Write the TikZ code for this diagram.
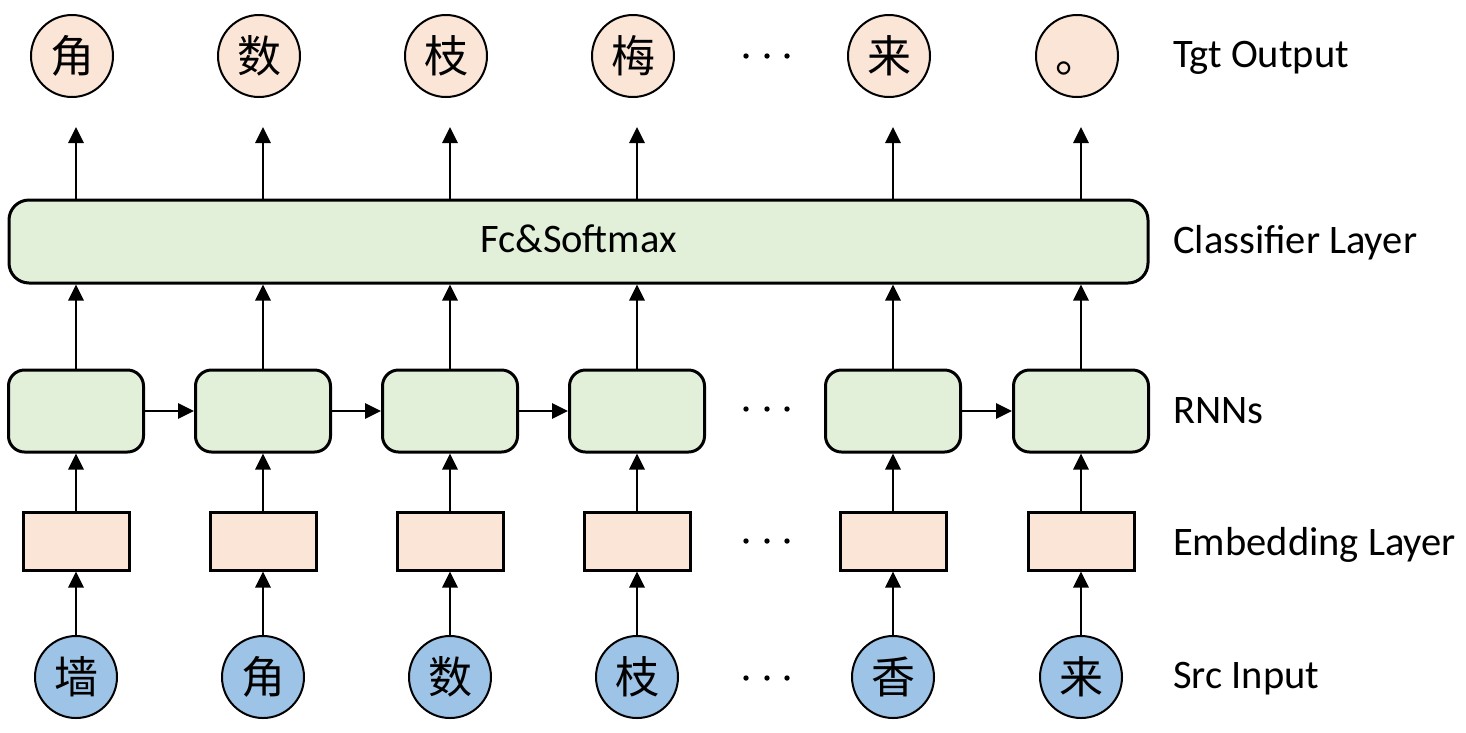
\documentclass[tikz,border=0pt]{standalone}
\usepackage{fontspec}
\setmainfont{Carlito}
\newfontfamily\cjk{Noto Sans CJK SC}
\usetikzlibrary{arrows.meta}
\definecolor{tgtfill}{HTML}{FBE5D6}
\definecolor{rnnfill}{HTML}{E2F0D9}
\definecolor{srcfill}{HTML}{9DC3E6}

\begin{document}
\begin{tikzpicture}[x=1pt,y=-1pt,
  token/.style={circle, draw=black, line width=2pt, minimum size=82pt, inner sep=0pt,
    font=\cjk\fontsize{44}{44}\selectfont, text height=38.7pt, text depth=5.3pt},
  tgt/.style={token, fill=tgtfill},
  src/.style={token, fill=srcfill},
  rnncell/.style={draw=black, rounded corners=16pt, line width=3pt, fill=rnnfill,
    minimum width=135pt, minimum height=82pt, inner sep=0pt},
  embbox/.style={draw=black, line width=3pt, fill=tgtfill,
    minimum width=106pt, minimum height=58pt, inner sep=0pt},
  clsbox/.style={draw=black, rounded corners=20pt, line width=3pt, fill=rnnfill,
    minimum width=1139pt, minimum height=83pt, inner sep=0pt,
    font=\fontsize{40.5}{48}\selectfont, text height=27pt, text depth=6pt},
  layerlabel/.style={anchor=base west, inner sep=0pt, font=\fontsize{40.5}{48}\selectfont},
  flow/.style={-{Triangle[length=16pt,width=15pt]}, line width=2.8pt},
]
\useasboundingbox (0,0) rectangle (1466,732);

% classifier spanning all time steps
\node[clsbox] (cls) at (578.5,241.5) {Fc\&Softmax};

% one column per time step: input, embedding, RNN cell, output
\foreach \i/\x/\s/\t in {1/76/墙/角, 2/263/角/数, 3/450/数/枝, 4/637/枝/梅, 5/893/香/来, 6/1081/来/。}{
  \node[src] (s\i) at (\x,677) {\s};
  \node[embbox] (e\i) at (\x,541) {};
  \node[rnncell] (r\i) at (\x,411) {};
  \node[tgt] (t\i) at (\x-4,56) {\t};
  \coordinate (tip\i) at (\x,127);
  \draw[flow] (s\i.north) -- (e\i.south);
  \draw[flow] (e\i.north) -- (r\i.south);
  \draw[flow] (r\i.north) -- (r\i.north |- cls.south);
  \draw[flow] (cls.north -| tip\i) -- (tip\i);
}

% recurrent connections
\foreach \a/\b in {1/2, 2/3, 3/4, 5/6}
  \draw[flow] (r\a.east) -- (r\b.west);

% ellipses for the omitted steps
\foreach \y in {56,409,541,678}
  \foreach \dx in {746,767,787}
    \fill (\dx,\y) circle (2.7pt);

% layer names
\node[layerlabel] (lt) at (1173,67) {Tgt Output};
\node[layerlabel] (lc) at (1173,253) {Classifier Layer};
\node[layerlabel] (lr) at (1173,423) {RNNs};
\node[layerlabel] (le) at (1173,555) {Embedding Layer};
\node[layerlabel] (ls) at (1173,688) {Src Input};
\end{tikzpicture}
\end{document}
